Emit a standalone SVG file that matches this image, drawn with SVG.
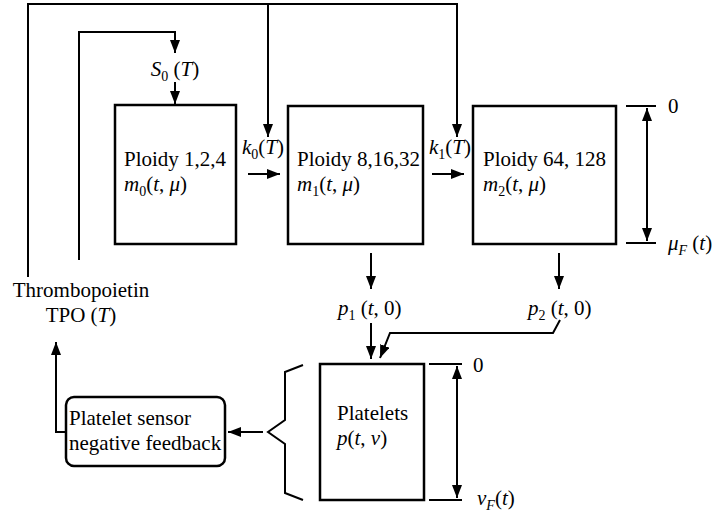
<svg xmlns="http://www.w3.org/2000/svg" width="714" height="512" viewBox="0 0 714 512">
<style>
text{font-family:"Liberation Serif","Times New Roman",serif;font-size:21px;fill:#000}
.i{font-style:italic}
.s{font-size:14px}
.box{fill:#fff;stroke:#000;stroke-width:2.5}
.ln{fill:none;stroke:#000;stroke-width:2}
</style>
<defs>
<marker id="ah" viewBox="0 0 13 10" refX="13" refY="5" markerWidth="13" markerHeight="10" markerUnits="userSpaceOnUse" orient="auto-start-reverse">
<path d="M0,0 L13,5 L0,10 z" fill="#000"/>
</marker>
</defs>
<rect width="714" height="512" fill="#fff"/>
<g id="connectors">
<path class="ln" d="M28,277 L28,4 L457,4 L457,137" marker-end="url(#ah)"/>
<path class="ln" d="M268,4 L268,137" marker-end="url(#ah)"/>
<path class="ln" d="M79,260 L79,32 L175,32 L175,53" marker-end="url(#ah)"/>
<path class="ln" d="M175,82 L175,104" marker-end="url(#ah)"/>
<path class="ln" d="M248,174 L280,174" marker-end="url(#ah)"/>
<path class="ln" d="M432,174 L464,174" marker-end="url(#ah)"/>
<path class="ln" d="M371,253 L371,289" marker-end="url(#ah)"/>
<path class="ln" d="M559,253 L559,289" marker-end="url(#ah)"/>
<path class="ln" d="M371,323 L371,359" marker-end="url(#ah)"/>
<path class="ln" d="M560,320 L553,333 L390,333 L380,358" marker-end="url(#ah)"/>
<path class="ln" d="M263,432 L228,432" marker-end="url(#ah)"/>
<path class="ln" d="M66,432 L56,432 L56,342" marker-end="url(#ah)"/>
<path class="ln" stroke-width="2.5" d="M303,365 L285,372 L285,420 L268,432 L285,444 L285,493 L303,500"/>
<path class="ln" stroke-width="2.5" d="M626,106 L656,106 M626,243 L656,243"/>
<path class="ln" d="M647,108 L647,241" marker-start="url(#ah)" marker-end="url(#ah)"/>
<path class="ln" stroke-width="2.5" d="M429,364 L462,364 M429,500 L462,500"/>
<path class="ln" d="M457,366 L457,498" marker-start="url(#ah)" marker-end="url(#ah)"/>
</g>
<g id="labels">
<text x="175" y="76" text-anchor="middle"><tspan class="i">S</tspan><tspan class="s" dy="5">0</tspan><tspan dy="-5"> (</tspan><tspan class="i">T</tspan>)</text>
<text x="242" y="154"><tspan class="i">k</tspan><tspan class="s" dy="5">0</tspan><tspan dy="-5">(</tspan><tspan class="i">T</tspan>)</text>
<text x="429" y="154"><tspan class="i">k</tspan><tspan class="s" dy="5">1</tspan><tspan dy="-5">(</tspan><tspan class="i">T</tspan>)</text>
<text x="668" y="113">0</text>
<text x="668" y="250"><tspan class="i">μ</tspan><tspan class="s i" dy="5">F</tspan><tspan dy="-5"> (</tspan><tspan class="i">t</tspan>)</text>
<text x="338" y="315"><tspan class="i">p</tspan><tspan class="s" dy="5">1</tspan><tspan dy="-5"> (</tspan><tspan class="i">t</tspan>, 0)</text>
<text x="528" y="315"><tspan class="i">p</tspan><tspan class="s" dy="5">2</tspan><tspan dy="-5"> (</tspan><tspan class="i">t</tspan>, 0)</text>
<text x="473" y="372">0</text>
<text x="477" y="505"><tspan class="i">v</tspan><tspan class="s i" dy="5">F</tspan><tspan dy="-5">(</tspan><tspan class="i">t</tspan>)</text>
</g>
<g id="tpo">
<text x="81" y="297" text-anchor="middle">Thrombopoietin</text>
<text x="81" y="322" text-anchor="middle">TPO (<tspan class="i">T</tspan>)</text>
</g>
<g id="ploidy0">
<rect class="box" x="115" y="105" width="121" height="139"/>
<text x="124" y="166">Ploidy 1,2,4</text>
<text x="124" y="191"><tspan class="i">m</tspan><tspan class="s" dy="5">0</tspan><tspan dy="-5">(</tspan><tspan class="i">t</tspan>, <tspan class="i">μ</tspan>)</text>
</g>
<g id="ploidy1">
<rect class="box" x="288" y="106" width="135" height="138"/>
<text x="297" y="166">Ploidy 8,16,32</text>
<text x="297" y="191"><tspan class="i">m</tspan><tspan class="s" dy="5">1</tspan><tspan dy="-5">(</tspan><tspan class="i">t</tspan>, <tspan class="i">μ</tspan>)</text>
</g>
<g id="ploidy2">
<rect class="box" x="473" y="106" width="143" height="138"/>
<text x="483" y="166">Ploidy 64, 128</text>
<text x="483" y="191"><tspan class="i">m</tspan><tspan class="s" dy="5">2</tspan><tspan dy="-5">(</tspan><tspan class="i">t</tspan>, <tspan class="i">μ</tspan>)</text>
</g>
<g id="platelets">
<rect class="box" x="320" y="364" width="104" height="136"/>
<text x="337" y="420">Platelets</text>
<text x="337" y="445"><tspan class="i">p</tspan>(<tspan class="i">t</tspan>, <tspan class="i">v</tspan>)</text>
</g>
<g id="sensor">
<rect class="box" x="66" y="397" width="159" height="69" rx="8"/>
<text x="69" y="425">Platelet sensor</text>
<text x="69" y="450">negative feedback</text>
</g>
</svg>
